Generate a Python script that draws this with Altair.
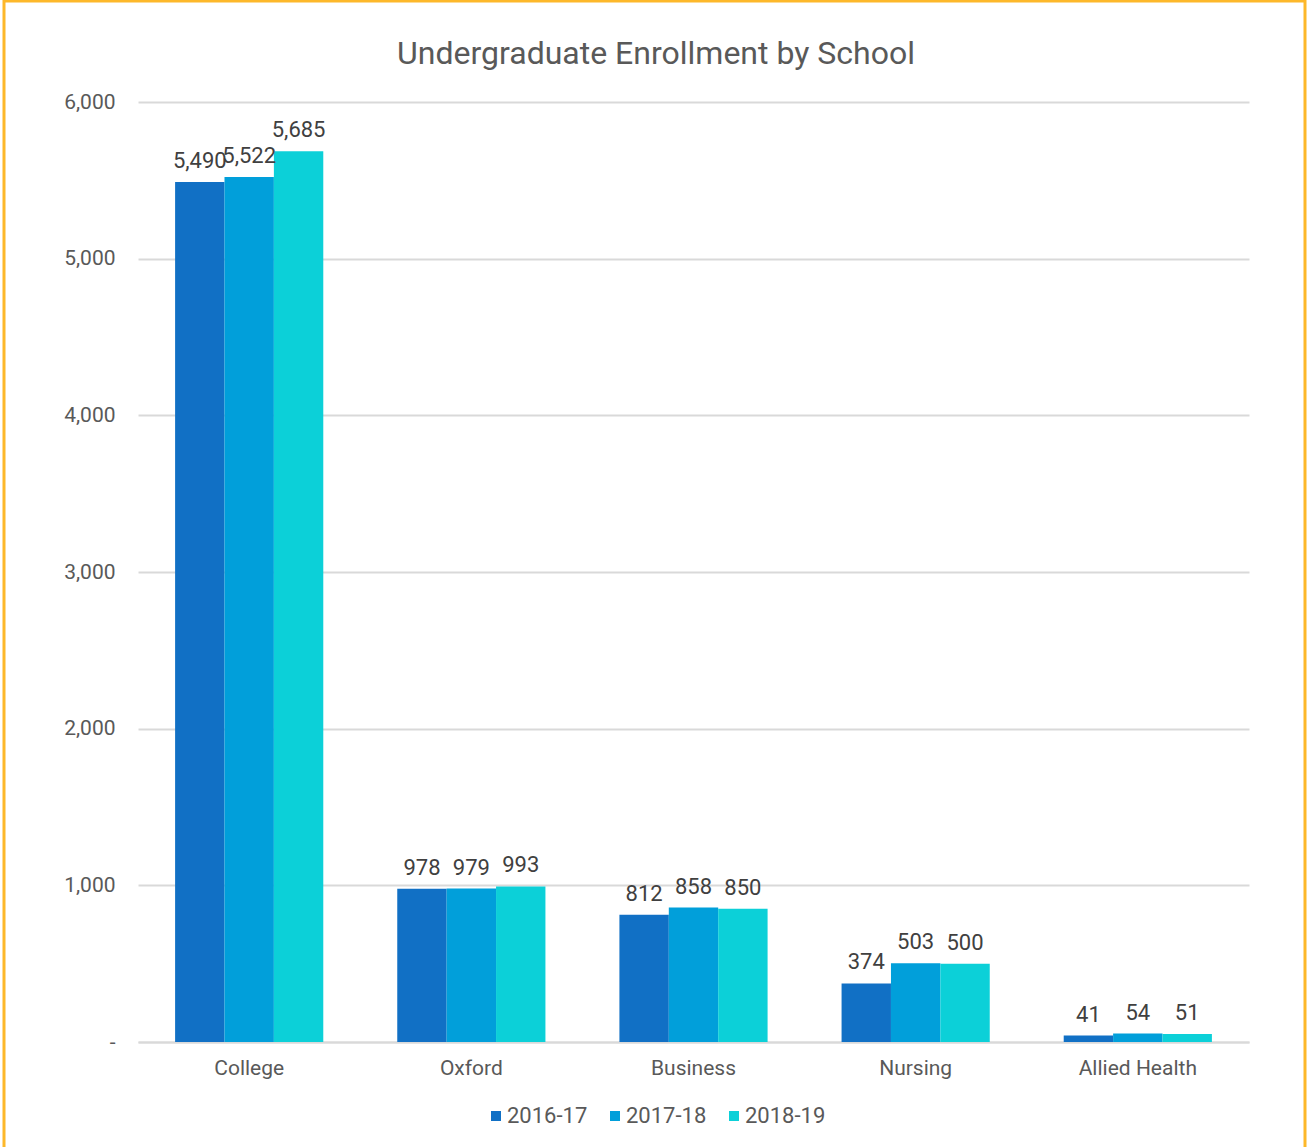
import altair as alt
import pandas as pd

schools = ["College", "Oxford", "Business", "Nursing", "Allied Health"]
years = ["2016-17", "2017-18", "2018-19"]
v_2016 = [5490, 978, 812, 374, 41]
v_2017 = [5522, 979, 858, 503, 54]
v_2018 = [5685, 993, 850, 500, 51]
colors = ["#1170C5", "#019FDA", "#0CD0D8"]
title_text = "Undergraduate Enrollment by School"

rows = []
for y, vals in zip(years, [v_2016, v_2017, v_2018]):
    for s, v in zip(schools, vals):
        rows.append({"school": s, "year": y, "value": v})
df = pd.DataFrame(rows)

FONT = "Roboto"
TXT = "#595959"

x = alt.X("school:N", sort=schools, title=None,
          scale=alt.Scale(paddingInner=0.333, paddingOuter=0.167),
          axis=alt.Axis(labelAngle=0, labelFontSize=21, labelColor=TXT, labelFont=FONT,
                        labelPadding=15, ticks=False, domain=True, domainColor="#D9D9D9",
                        domainWidth=2, grid=False))
xo = alt.XOffset("year:N", sort=years)
y = alt.Y("value:Q", title=None, scale=alt.Scale(domain=[0, 6000], nice=False),
          axis=alt.Axis(values=[0, 1000, 2000, 3000, 4000, 5000, 6000],
                        labelExpr="datum.value == 0 ? '-' : format(datum.value, ',')",
                        labelFontSize=21, labelColor=TXT, labelFont=FONT, labelPadding=23,
                        ticks=False, domain=False, grid=True, gridColor="#D9D9D9", gridWidth=2))

base = alt.Chart(df)
bars = base.mark_bar().encode(
    x=x, xOffset=xo, y=y,
    color=alt.Color("year:N", sort=years, scale=alt.Scale(domain=years, range=colors),
                    legend=alt.Legend(title=None, orient="none", legendX=347, legendY=1003,
                                      direction="horizontal", symbolType="square",
                                      symbolSize=100, symbolStrokeWidth=0,
                                      labelFontSize=22, labelColor=TXT, labelFont=FONT,
                                      columnPadding=16, labelOffset=0)),
)
labels = base.mark_text(baseline="alphabetic", dy=-14, fontSize=22, color="#404040", font=FONT).encode(
    x=x, xOffset=xo, y=y,
    text=alt.Text("value:Q", format=","),
)
title = alt.Chart(pd.DataFrame({"t": [title_text]})).mark_text(
    fontSize=32, font=FONT, color=TXT, align="center", baseline="middle"
).encode(x=alt.value(518), y=alt.value(-48), text="t:N")
border = alt.Chart(pd.DataFrame({"a": [0]})).mark_rect(
    fill=None, stroke="#FDB82A", strokeWidth=3
).encode(x=alt.value(-134), x2=alt.value(1167), y=alt.value(-101), y2=alt.value(1080))

chart = alt.layer(bars, labels, title, border).properties(
    width=1111, height=940,
    background="white",
    padding={"left": 138, "top": 102, "right": 58, "bottom": 105},
    autosize=alt.AutoSizeParams(type="none"),
).configure_view(stroke=None, strokeWidth=0)

chart.save("out.html", embed_options={"renderer": "svg", "actions": False})
